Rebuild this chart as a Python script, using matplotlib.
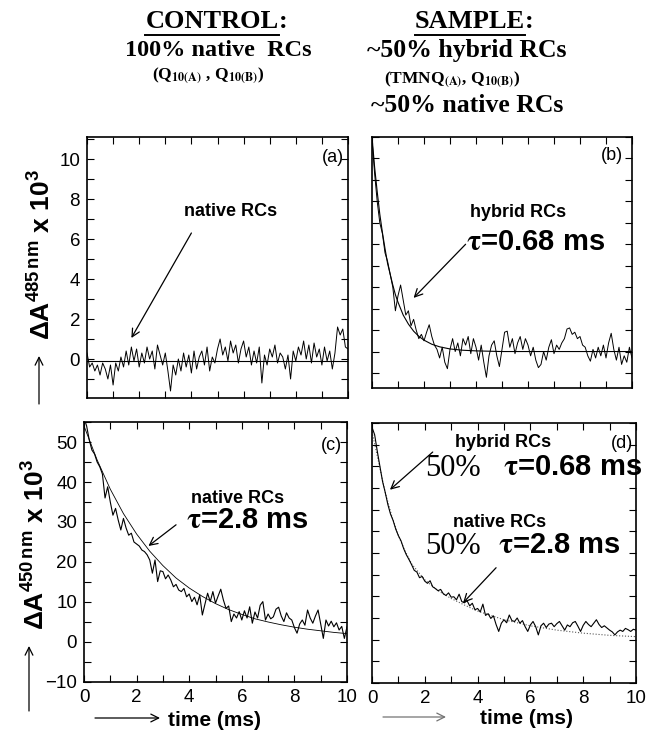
import numpy as np
import matplotlib
matplotlib.use('Agg')
import matplotlib.pyplot as plt
from matplotlib.ticker import MultipleLocator

plt.rcParams['font.family'] = ['Liberation Sans', 'DejaVu Sans']
plt.rcParams['mathtext.fontset'] = 'custom'
plt.rcParams['mathtext.rm'] = 'Liberation Sans:bold'
plt.rcParams['mathtext.it'] = 'Liberation Sans:bold'
plt.rcParams['mathtext.bf'] = 'Liberation Sans:bold'

# time axis of the recorded traces (ms)
t_trace = np.linspace(0, 10, 101)

# (a) control, 485 nm
dA_a = [0.3, -0.4, -0.2, -0.6, -0.3, -0.8, -0.2, -0.5, -1.0, -0.3,
        -1.3, -0.2, -0.6, 0.1, -0.4, 0.4, -0.3, 0.6, -0.1, 0.5,
        -0.4, 0.3, -0.2, 0.6, 0.0, 0.4, -0.5, 0.7, 0.2, -0.3,
        0.3, -0.6, -1.6, -0.3, -0.8, 0.0, -0.6, 0.3, -0.4, 0.2,
        -0.7, 0.4, -0.5, 0.1, 0.4, -0.3, 0.6, -0.6, 0.1, -0.2,
        0.5, 1.0, 0.2, 0.6, -0.1, 0.9, 0.3, 0.7, -0.2, 0.5,
        0.9, 0.1, 0.6, -0.3, 0.4, -0.2, 0.6, -1.2, 0.2, -0.3,
        0.5, 0.1, 0.7, -0.2, 0.3, 0.1, -0.5, 0.2, -1.0, 0.4,
        -0.1, 0.6, 0.2, 0.9, 0.0, 0.7, -0.2, 0.8, 0.1, 0.5,
        -0.3, 0.6, -0.1, 0.4, -0.5, 0.3, 1.6, 1.2, 1.5, 0.6,
        0.5]
fit_a_t = [0, 10]
fit_a = [-0.1, -0.1]

# (b) sample, 485 nm
dA_b = [9.9, 8.3, 7.0, 6.0, 5.5, 4.6, 4.2, 3.6, 3.0, 1.9,
        2.6, 3.1, 2.4, 1.7, 1.9, 1.2, 1.5, 1.0, 0.6, 0.8,
        0.5, 0.9, 1.25, 0.7, 0.3, 0.1, -0.3, 0.2, -0.5, -0.8,
        0.1, 0.6, 0.0, 0.4, -0.2, 0.6, 0.3, 0.7, -0.1, 0.6,
        0.2, -0.4, 0.3, -0.5, -1.2, -0.2, 0.3, 0.5, -0.2, -0.7,
        0.1, 0.9, 0.95, 0.2, 0.6, -0.1, 0.4, 0.7, 0.1, 0.6,
        0.3, -0.2, 0.2, -0.4, -0.75, -0.6, 0.0, -0.4, 0.2, 0.55,
        -0.1, 0.3, 0.1, 0.4, 0.6, 1.05, 1.1, 0.8, 0.9, 0.6,
        0.7, 0.3, 0.2, -0.2, -0.45, 0.1, -0.3, 0.2, -0.2, 0.3,
        -0.3, 0.4, 0.85, 0.1, -0.4, 0.2, -0.6, -0.2, -0.5, 0.2,
        -0.3]
fit_b_t = [0, 0.1, 0.2, 0.3, 0.4, 0.5, 0.6, 0.7, 0.8, 0.9, 1.0, 1.2,
           1.4, 1.6, 1.8, 2.0, 2.3, 2.6, 3.0, 3.5, 4.0, 5.0, 10.0]
fit_b = [10.0, 8.6, 7.45, 6.4, 5.55, 4.8, 4.1, 3.6, 3.1, 2.65, 2.3, 1.7,
         1.28, 0.95, 0.71, 0.53, 0.34, 0.22, 0.12, 0.06, 0.03, 0.0, 0.0]

# (c) control, 450 nm
dA_c = [56, 54, 50.5, 48, 47, 45, 43.8, 42, 36, 38.8,
        35, 31.7, 33.4, 30.5, 28, 30.9, 28.5, 26.7, 27.2, 25,
        24.5, 24.0, 23.0, 22.6, 21.8, 20.5, 17.2, 20.5, 15.1, 17.8,
        17.6, 15.8, 16.75, 15.5, 13.8, 14.4, 13.0, 12.6, 13.4, 11.3,
        12.0, 10.1, 11.2, 9.3, 11.75, 6.75, 9.5, 12.2, 10.1, 12.6,
        9.7, 11.5, 13.2, 10.5, 8.4, 9.0, 5.1, 7.0, 6.0, 7.6,
        5.5, 7.8, 6.0, 8.8, 4.7, 7.5, 6.0, 9.2, 10.1, 5.5,
        7.0, 5.8, 6.3, 8.2, 8.7, 6.5, 5.1, 7.3, 6.0, 5.5,
        3.6, 2.2, 4.5, 5.5, 4.2, 8.0, 6.0, 4.7, 6.5, 8.0,
        4.5, 0.9, 5.5, 4.0, 5.2, 3.8, 4.8, 3.0, 3.9, 0.9,
        3.8]
fit_c_t = [0, 0.5, 1, 1.5, 2, 2.5, 3, 3.5, 4, 4.5, 5,
           5.5, 6, 6.5, 7, 7.5, 8, 8.5, 9, 9.5, 10]
fit_c = [54.0, 45.5, 38.2, 32.1, 27.0, 22.7, 19.1, 16.0, 13.5, 11.4, 9.6,
         8.1, 6.9, 5.8, 5.0, 4.3, 3.7, 3.2, 2.8, 2.4, 2.1]

# (d) sample, 450 nm
dA_d = [49, 47.3, 43.5, 40, 36.5, 34, 31.2, 29, 27.5, 25.5,
        24, 22.8, 21, 19.6, 18.5, 17.3, 16.0, 15.6, 14.3, 14.6,
        13.5, 13.0, 13.6, 12.2, 11.8, 11.3, 11.6, 10.6, 10.2, 10.8,
        9.8, 9.9, 9.2, 10.5, 8.8, 8.5, 9.0, 7.8, 8.4, 6.9,
        7.2, 6.4, 8.2, 5.6, 6.0, 4.9, 5.5, 3.5, 1.9, 3.8,
        4.6, 3.9, 5.7, 4.4, 4.2, 5.0, 3.8, 4.4, 3.0, 1.9,
        3.4, 4.2, 3.0, 1.1, 3.2, 3.8, 2.8, 3.6, 3.8, 3.0,
        3.7, 4.2, 3.2, 2.2, 3.4, 3.0, 3.9, 4.2, 3.1, 1.9,
        3.3, 4.2, 3.5, 3.0, 3.8, 4.6, 3.5, 2.8, 3.2, 2.7,
        2.2, 1.8, 1.1, 1.8, 2.2, 1.9, 2.6, 2.3, 1.9, 2.4,
        2.2]
fit_d_t = [0, 0.25, 0.5, 0.75, 1, 1.25, 1.5, 2, 2.5, 3, 3.5, 4, 5, 6, 7, 8, 9, 10]
fit_d = [48, 41, 34, 28.5, 24, 20.5, 17.5, 13.8, 11.3, 9.5, 8.0, 6.6, 4.6,
         3.2, 2.2, 1.5, 1.0, 0.7]

W, H = 647, 738
fig = plt.figure(figsize=(W / 100, H / 100), dpi=100)


def box(x0, y0, x1, y1):
    return [x0 / W, 1 - y1 / H, (x1 - x0) / W, (y1 - y0) / H]


def style(ax, ylim, ymaj, ymin, ylab, xlab):
    ax.set_xlim(0, 10)
    ax.set_ylim(*ylim)
    ax.xaxis.set_major_locator(MultipleLocator(2))
    ax.xaxis.set_minor_locator(MultipleLocator(1))
    ax.yaxis.set_major_locator(MultipleLocator(ymaj))
    ax.yaxis.set_minor_locator(MultipleLocator(ymin))
    ax.tick_params(which='both', direction='in', top=True, right=True,
                   length=5, width=0.8, labelsize=13.5, pad=5)
    ax.tick_params(labelbottom=xlab, labelleft=ylab)
    for s in ax.spines.values():
        s.set_linewidth(1.2)


ax_a = fig.add_axes(box(87, 137, 348, 398))
ax_b = fig.add_axes(box(372, 137, 632, 388))
ax_c = fig.add_axes(box(84, 422, 347, 682))
ax_d = fig.add_axes(box(372, 423, 636, 683))

style(ax_a, (-1.95, 11.1), 2, 1, True, False)
style(ax_b, (-1.7, 10.0), 1, 1, False, False)
style(ax_c, (-10, 55), 10, 5, True, True)
style(ax_d, (-10, 50), 5, 5, False, True)

arr = dict(arrowstyle='->', lw=0.9, color='k', shrinkA=0, shrinkB=0,
           mutation_scale=14)
bold = dict(fontweight='bold', fontsize=13, ha='center', va='center')
tau = dict(fontweight='bold', fontsize=21, ha='center', va='center',
           math_fontfamily='stix')

# (a)
ax_a.plot(t_trace, dA_a, color='k', lw=0.7)
ax_a.plot(fit_a_t, fit_a, color='k', lw=0.8)
ax_a.text(5.5, 7.35, 'native RCs', **bold)
ax_a.annotate('', xy=(1.7, 1.05), xytext=(4.0, 6.3), arrowprops=arr)
ax_a.text(0.943, 0.923, '(a)', transform=ax_a.transAxes, ha='center',
          va='center', fontsize=13)

# (b)
ax_b.plot(t_trace, dA_b, color='k', lw=0.7)
ax_b.plot(fit_b_t, fit_b, color='k', lw=0.8)
ax_b.text(5.6, 6.5, 'hybrid RCs', **bold)
ax_b.text(6.3, 5.1, r'$\mathbf{\tau}$=0.68 ms', **tau)
ax_b.annotate('', xy=(1.6, 2.5), xytext=(3.6, 5.0), arrowprops=arr)
ax_b.text(0.923, 0.928, '(b)', transform=ax_b.transAxes, ha='center',
          va='center', fontsize=13)

# (c)
ax_c.plot(t_trace, dA_c, color='k', lw=0.8)
ax_c.plot(fit_c_t, fit_c, color='k', lw=0.6)
ax_c.text(5.85, 36, 'native RCs', **bold)
ax_c.text(6.2, 30.5, r'$\mathbf{\tau}$=2.8 ms', **tau)
ax_c.annotate('', xy=(2.45, 24), xytext=(3.5, 29.3), arrowprops=arr)
ax_c.text(0.94, 0.91, '(c)', transform=ax_c.transAxes, ha='center',
          va='center', fontsize=13)

# (d)
ax_d.plot(fit_d_t, fit_d, color='0.35', lw=0.8, ls=':')
ax_d.plot(t_trace, dA_d, color='k', lw=0.8)
ax_d.text(4.96, 45.4, 'hybrid RCs', **bold)
ax_d.text(3.07, 39.6, '50%', fontfamily='Liberation Serif', fontsize=22,
          ha='center', va='center')
ax_d.text(7.6, 39.9, r'$\mathbf{\tau}$=0.68 ms', **tau)
ax_d.annotate('', xy=(0.68, 34.6), xytext=(2.3, 43.3), arrowprops=arr)
ax_d.text(4.85, 27, 'native RCs', **bold)
ax_d.text(3.07, 21.4, '50%', fontfamily='Liberation Serif', fontsize=22,
          ha='center', va='center')
ax_d.text(7.1, 21.9, r'$\mathbf{\tau}$=2.8 ms', **tau)
ax_d.annotate('', xy=(3.45, 8.5), xytext=(4.7, 16.6), arrowprops=arr)
ax_d.text(0.947, 0.923, '(d)', transform=ax_d.transAxes, ha='center',
          va='center', fontsize=13)

# overlay in pixel units for headings, axis labels and outer arrows
ov = fig.add_axes([0, 0, 1, 1])
ov.set_xlim(0, W)
ov.set_ylim(H, 0)
ov.axis('off')

serif = dict(fontfamily='Liberation Serif', fontweight='bold',
             ha='center', va='center', math_fontfamily='stix')
t_ctrl = ov.text(212, 22, 'CONTROL', fontsize=19, **serif)
t_samp = ov.text(470, 22, 'SAMPLE', fontsize=19, **serif)
ov.text(218, 50, '100% native  RCs', fontsize=17.5, **serif)
ov.text(208, 76, r'(Q$_{\mathbf{10(A)}}$ , Q$_{\mathbf{10(B)}}$)',
        fontsize=12.5, **serif)
ov.text(467, 50, '~50% hybrid RCs', fontsize=18.5, **serif)
ov.text(452, 80, r'(TMNQ$_{\mathbf{(A)}}$, Q$_{\mathbf{10(B)}}$)',
        fontsize=12.5, **serif)
ov.text(467, 106, '~50% native RCs', fontsize=18.5, **serif)

renderer = fig.canvas.get_renderer()
inv = ov.transData.inverted()
for t in (t_ctrl, t_samp):
    bb = t.get_window_extent(renderer)
    (x0, y0), (x1, y1) = inv.transform([[bb.x0, bb.y0], [bb.x1, bb.y1]])
    ov.text(x1, 22, ':', fontsize=19, fontfamily='Liberation Serif',
            fontweight='bold', ha='left', va='center')
    ov.plot([x0, x1], [y0 + 1, y0 + 1], color='k', lw=1.4)

ylab = dict(fontsize=19, fontweight='bold', rotation=90, ha='center',
            va='center')
ov.text(42, 255, r'$\Delta\mathbf{A}^{485\,\mathrm{nm}}$ x 10$^{3}$', **ylab)
ov.text(36, 545, r'$\Delta\mathbf{A}^{450\,\mathrm{nm}}$ x 10$^{3}$', **ylab)
ov.annotate('', xy=(39, 356), xytext=(39, 404), arrowprops=arr)
ov.annotate('', xy=(29, 646), xytext=(29, 711), arrowprops=arr)

ov.text(215, 721, 'time (ms)', fontsize=15, fontweight='bold',
        ha='center', va='center')
ov.text(527, 719, 'time (ms)', fontsize=15, fontweight='bold',
        ha='center', va='center')
ov.annotate('', xy=(160, 718), xytext=(95, 718), arrowprops=arr)
ov.annotate('', xy=(446, 717), xytext=(383, 717),
            arrowprops=dict(arr, color='0.45'))

fig.savefig('out.png', dpi=100)
